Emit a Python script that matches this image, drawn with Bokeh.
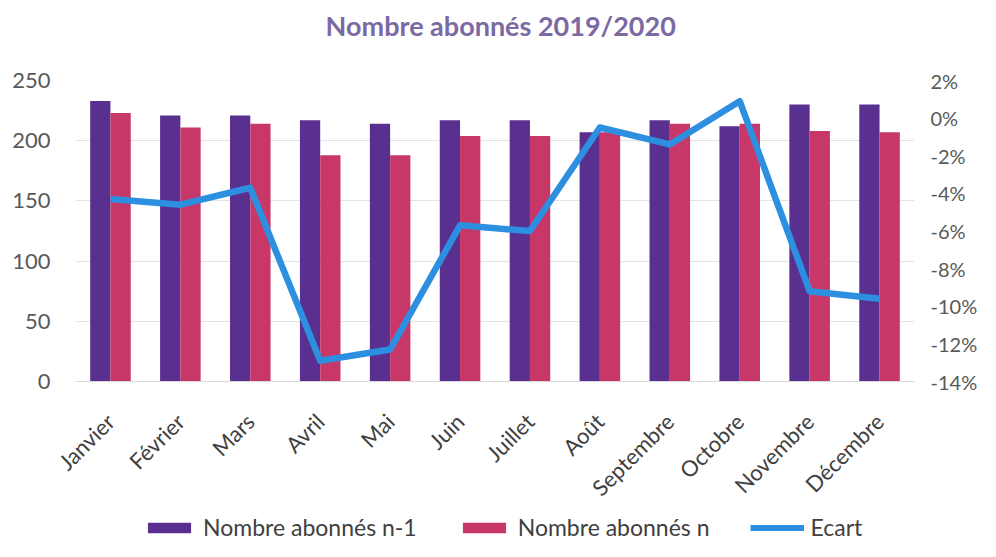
from math import pi
from bokeh.plotting import figure
from bokeh.layouts import column
from bokeh.core.properties import value
from bokeh.models import (ColumnDataSource, FactorRange, Range1d, LinearAxis, FixedTicker,
                          NumeralTickFormatter, Legend, LegendItem)
from bokeh.transform import dodge
from bokeh.embed import file_html
from bokeh.resources import INLINE

title_text = "Nombre  abonnés 2019/2020"
months = ["Janvier", "Février", "Mars", "Avril", "Mai", "Juin", "Juillet", "Août",
          "Septembre", "Octobre", "Novembre", "Décembre"]
abonnes_n1 = [233, 221, 221, 217, 214, 217, 217, 207, 217, 212, 230, 230]
abonnes_n = [223, 211, 214, 188, 188, 204, 204, 207, 214, 214, 208, 207]
ecart = [-0.043, -0.046, -0.037, -0.129, -0.123, -0.057, -0.060, -0.005, -0.014, 0.009, -0.092, -0.096]
left_ticks = [0, 50, 100, 150, 200, 250]
right_ticks = [-0.14, -0.12, -0.10, -0.08, -0.06, -0.04, -0.02, 0.0, 0.02]
series_names = ["Nombre abonnés n-1", "Nombre abonnés n", "Ecart"]

FONT = "Lato"
C_N1 = "#59308f"
C_N = "#c73767"
C_LINE = "#2d8fe0"

src = ColumnDataSource(dict(month=months, n1=abonnes_n1, n=abonnes_n, ecart=ecart))

# title strip
tf = figure(width=980, height=56, x_range=Range1d(0, 1), y_range=Range1d(0, 1),
            output_backend="svg", toolbar_location=None, x_axis_type=None, y_axis_type=None,
            min_border_left=0, min_border_right=0, min_border_top=0, min_border_bottom=0)
tf.outline_line_color = None
tf.grid.grid_line_color = None
tf.text(x=[0.5], y=[0.56], text=[title_text], text_align="center", text_baseline="middle",
        x_offset=9, text_font=value(FONT), text_font_size="27px", text_font_style="bold",
        text_color="#7b69a3")

p = figure(width=980, height=457, x_range=FactorRange(*months, range_padding=0),
           y_range=Range1d(0, 250), output_backend="svg", toolbar_location=None,
           min_border_left=75, min_border_right=62, min_border_top=24, min_border_bottom=130)
p.outline_line_color = None
p.background_fill_color = "white"

p.extra_y_ranges = {"pct": Range1d(-0.14, 0.02)}

r1 = p.vbar(x=dodge("month", -0.145, range=p.x_range), top="n1", width=0.29, source=src,
            fill_color=C_N1, line_color=None)
r2 = p.vbar(x=dodge("month", 0.145, range=p.x_range), top="n", width=0.29, source=src,
            fill_color=C_N, line_color=None)
r3 = p.line(x="month", y="ecart", source=src, y_range_name="pct", line_color=C_LINE,
            line_width=6.5, line_join="round")

ya = p.yaxis[0]
ya.ticker = FixedTicker(ticks=left_ticks)
ya.axis_line_color = None
ya.major_tick_line_color = None
ya.minor_tick_line_color = None
ya.major_label_text_font = FONT
ya.major_label_text_font_size = "22px"
ya.major_label_text_color = "#595959"
ya.major_label_standoff = 19

ra = LinearAxis(y_range_name="pct", ticker=FixedTicker(ticks=right_ticks),
                formatter=NumeralTickFormatter(format="0%"))
ra.axis_line_color = None
ra.major_tick_line_color = None
ra.minor_tick_line_color = None
ra.major_label_text_font = FONT
ra.major_label_text_font_size = "20px"
ra.major_label_text_color = "#595959"
ra.major_label_standoff = 10
p.add_layout(ra, "right")

xa = p.xaxis[0]
xa.axis_line_color = "#d9d9d9"
xa.major_tick_line_color = None
xa.major_label_orientation = pi / 4
xa.major_label_text_font = FONT
xa.major_label_text_font_size = "22px"
xa.major_label_text_color = "#404040"
xa.major_label_standoff = 30

p.xgrid.grid_line_color = None
p.ygrid.grid_line_color = "#e3e3e3"
p.ygrid.ticker = FixedTicker(ticks=left_ticks)

# legend strip below the chart; its renderers reuse the data but lie outside its ranges
lg = figure(width=980, height=28, x_range=FactorRange(*months), y_range=Range1d(1000, 1001),
            output_backend="svg", toolbar_location=None, x_axis_type=None, y_axis_type=None,
            min_border_left=0, min_border_right=0, min_border_top=0, min_border_bottom=0)
lg.extra_y_ranges = {"pct": Range1d(1000, 1001)}
lg.outline_line_color = None
lg.grid.grid_line_color = None
d1 = lg.vbar(x="month", top="n1", width=0.29, source=src, fill_color=C_N1, line_color=None)
d2 = lg.vbar(x="month", top="n", width=0.29, source=src, fill_color=C_N, line_color=None)
d3 = lg.line(x="month", y="ecart", source=src, y_range_name="pct", line_color=C_LINE, line_width=6)
legend = Legend(items=[LegendItem(label=series_names[0], renderers=[d1]),
                       LegendItem(label=series_names[1], renderers=[d2]),
                       LegendItem(label=series_names[2], renderers=[d3])],
                orientation="horizontal", location=(67, 0),
                glyph_width=54, glyph_height=13, label_standoff=7, spacing=40,
                padding=0, margin=0, border_line_color=None, background_fill_alpha=0,
                label_text_font=FONT, label_text_font_size="23px", label_text_color="#404040")
lg.add_layout(legend, "center")

layout = column(tf, p, lg, spacing=0)
open("out.html", "w").write(file_html(layout, INLINE))
